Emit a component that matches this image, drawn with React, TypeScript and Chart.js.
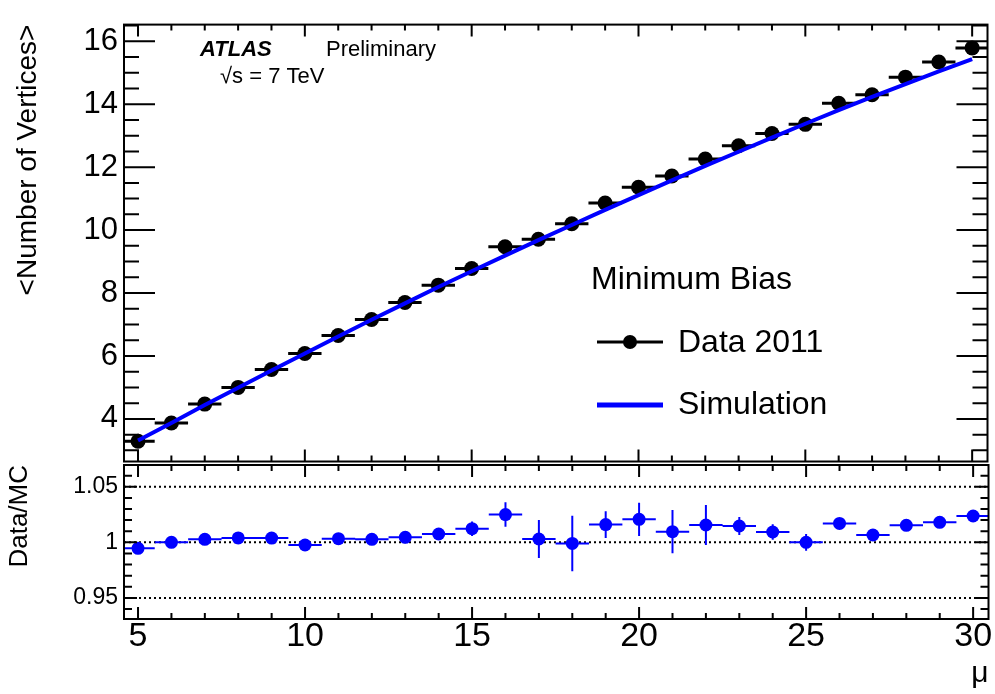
import React, { useEffect, useRef } from "react";
import { Chart, registerables } from "chart.js";

Chart.register(...registerables);

// Pile-up bins (bin centres in mu); each bin is one unit wide
const mu = [5, 6, 7, 8, 9, 10, 11, 12, 13, 14, 15, 16, 17, 18, 19, 20, 21, 22, 23, 24, 25, 26, 27, 28, 29, 30];
const muHalfWidth = 0.5;

// Mean number of reconstructed vertices, 2011 data
const dataVertices = [
  3.29, 3.87, 4.47, 5.0, 5.57, 6.08, 6.65, 7.16, 7.7, 8.25, 8.78, 9.47, 9.71,
  10.2, 10.86, 11.36, 11.72, 12.26, 12.68, 13.07, 13.36, 14.03, 14.3, 14.86, 15.34, 15.79,
];

// Simulation prediction
const simVertices = [
  3.31, 3.87, 4.44, 4.99, 5.54, 6.08, 6.62, 7.15, 7.67, 8.19, 8.69, 9.19, 9.68,
  10.16, 10.64, 11.11, 11.58, 12.04, 12.49, 12.94, 13.38, 13.81, 14.23, 14.64, 15.04, 15.43,
];

// Data / MC ratio with its uncertainty
const ratio = [
  0.9946, 1.0, 1.0027, 1.004, 1.0038, 0.9976, 1.0033, 1.0027, 1.0045, 1.0075, 1.0123, 1.025, 1.003,
  0.999, 1.016, 1.0207, 1.0096, 1.0156, 1.0147, 1.0093, 1.0, 1.017, 1.0066, 1.0153, 1.018, 1.0237,
];
const ratioErr = [
  0.003, 0.002, 0.002, 0.002, 0.002, 0.002, 0.002, 0.002, 0.002, 0.003, 0.0065, 0.011, 0.017,
  0.025, 0.012, 0.015, 0.0195, 0.018, 0.008, 0.007, 0.0075, 0.004, 0.004, 0.004, 0.005, 0.004,
];

// Axis tick labels
const verticesTicks = [4, 6, 8, 10, 12, 14, 16];
const ratioTicks = [0.95, 1, 1.05];
const muTicks = [5, 10, 15, 20, 25, 30];
const ratioReferenceLines = [0.95, 1, 1.05];

const FONT = '"Liberation Sans", Arial, Helvetica, sans-serif';
const BLUE = "#0000ff";
const W = 995;
const H = 694;

type TickSpec = {
  xFrom: number; xTo: number; xMinor: number; xMajor: number; xMajorLen: number; xMinorLen: number;
  yFrom: number; yTo: number; yMinor: number; yMajor: number; yMajorLen: number; yMinorLen: number;
};

const isMultiple = (v: number, step: number) => Math.abs(v / step - Math.round(v / step)) < 1e-6;

// Frame around the plot area with inward ticks on all four sides
function frameTicksPlugin(spec: TickSpec) {
  return {
    id: "frameTicks",
    afterDatasetsDraw(chart: any) {
      const { ctx, chartArea: a, scales } = chart;
      const xs = scales.x;
      const ys = scales.y;
      ctx.save();
      ctx.strokeStyle = "#000";
      ctx.lineWidth = 2;
      ctx.beginPath();
      const nx = Math.round((spec.xTo - spec.xFrom) / spec.xMinor);
      for (let i = 0; i <= nx; i++) {
        const v = spec.xFrom + i * spec.xMinor;
        const len = isMultiple(v, spec.xMajor) ? spec.xMajorLen : spec.xMinorLen;
        const px = xs.getPixelForValue(v);
        ctx.moveTo(px, a.top);
        ctx.lineTo(px, a.top + len);
        ctx.moveTo(px, a.bottom);
        ctx.lineTo(px, a.bottom - len);
      }
      const ny = Math.round((spec.yTo - spec.yFrom) / spec.yMinor);
      for (let i = 0; i <= ny; i++) {
        const v = spec.yFrom + i * spec.yMinor;
        const len = isMultiple(v, spec.yMajor) ? spec.yMajorLen : spec.yMinorLen;
        const py = ys.getPixelForValue(v);
        ctx.moveTo(a.left, py);
        ctx.lineTo(a.left + len, py);
        ctx.moveTo(a.right, py);
        ctx.lineTo(a.right - len, py);
      }
      ctx.stroke();
      ctx.strokeRect(a.left, a.top, a.right - a.left, a.bottom - a.top);
      ctx.restore();
    },
  };
}

// Bin-width and statistical error bars under the markers
function errorBarsPlugin(values: number[], errors: number[] | null, color: string, width: number) {
  return {
    id: "errorBars",
    beforeDatasetsDraw(chart: any) {
      const { ctx, chartArea: a, scales } = chart;
      const xs = scales.x;
      const ys = scales.y;
      ctx.save();
      ctx.beginPath();
      ctx.rect(a.left, a.top, a.right - a.left, a.bottom - a.top);
      ctx.clip();
      ctx.strokeStyle = color;
      ctx.lineWidth = width;
      ctx.beginPath();
      mu.forEach((m, i) => {
        const py = ys.getPixelForValue(values[i]);
        ctx.moveTo(xs.getPixelForValue(m - muHalfWidth), py);
        ctx.lineTo(xs.getPixelForValue(m + muHalfWidth), py);
        if (errors) {
          const px = xs.getPixelForValue(m);
          ctx.moveTo(px, ys.getPixelForValue(values[i] - errors[i]));
          ctx.lineTo(px, ys.getPixelForValue(values[i] + errors[i]));
        }
      });
      ctx.stroke();
      ctx.restore();
    },
  };
}

// Dotted reference lines in the ratio panel
const referenceLinesPlugin = {
  id: "referenceLines",
  beforeDatasetsDraw(chart: any) {
    const { ctx, chartArea: a, scales } = chart;
    ctx.save();
    ctx.strokeStyle = "#000";
    ctx.lineWidth = 2;
    ctx.setLineDash([2, 3]);
    ctx.beginPath();
    ratioReferenceLines.forEach((v) => {
      const py = scales.y.getPixelForValue(v);
      ctx.moveTo(a.left, py);
      ctx.lineTo(a.right, py);
    });
    ctx.stroke();
    ctx.restore();
  },
};

// Experiment label and legend
const labelsPlugin = {
  id: "labels",
  afterDraw(chart: any) {
    const { ctx } = chart;
    ctx.save();
    ctx.fillStyle = "#000";
    ctx.textBaseline = "middle";
    ctx.textAlign = "left";
    ctx.font = `italic bold 22px ${FONT}`;
    ctx.fillText("ATLAS", 200, 50);
    ctx.font = `22px ${FONT}`;
    ctx.fillText("Preliminary", 326, 50);
    ctx.fillText("\u221As = 7 TeV", 220, 77);

    ctx.font = `32px ${FONT}`;
    ctx.fillText("Minimum Bias", 591, 280);
    ctx.fillText("Data 2011", 678, 343);
    ctx.fillText("Simulation", 678, 405);

    ctx.strokeStyle = "#000";
    ctx.lineWidth = 3;
    ctx.beginPath();
    ctx.moveTo(597, 342);
    ctx.lineTo(663, 342);
    ctx.stroke();
    ctx.beginPath();
    ctx.arc(630, 342, 7, 0, Math.PI * 2);
    ctx.fill();

    ctx.strokeStyle = BLUE;
    ctx.lineWidth = 5;
    ctx.beginPath();
    ctx.moveTo(597, 405);
    ctx.lineTo(663, 405);
    ctx.stroke();
    ctx.restore();
  },
};

export default function App() {
  const topRef = useRef<HTMLCanvasElement | null>(null);
  const bottomRef = useRef<HTMLCanvasElement | null>(null);

  useEffect(() => {
    if (!topRef.current || !bottomRef.current) return;

    const top = new Chart(topRef.current, {
      type: "scatter",
      data: {
        datasets: [
          {
            type: "line",
            label: "Simulation",
            data: mu.map((m, i) => ({ x: m, y: simVertices[i] })),
            borderColor: BLUE,
            borderWidth: 4,
            pointRadius: 0,
            fill: false,
            tension: 0,
            order: 0,
          },
          {
            label: "Data 2011",
            data: mu.map((m, i) => ({ x: m, y: dataVertices[i] })),
            backgroundColor: "#000",
            borderWidth: 0,
            pointRadius: 7.5,
            order: 1,
          },
        ],
      },
      options: {
        responsive: false,
        animation: false,
        devicePixelRatio: 1,
        events: [],
        layout: { padding: { left: 0, right: 4, top: 5, bottom: H - 461.5 } },
        plugins: { legend: { display: false }, tooltip: { enabled: false } },
        scales: {
          x: { type: "linear", min: 4.58, max: 30.46, display: false },
          y: {
            type: "linear",
            position: "left",
            min: 2.646,
            max: 16.53,
            afterFit: (s: any) => { s.width = 124; },
            afterBuildTicks: (s: any) => { s.ticks = verticesTicks.map((v) => ({ value: v })); },
            grid: { display: false, drawTicks: false },
            border: { display: false },
            ticks: { padding: 6, color: "#000", font: { family: FONT, size: 31 }, callback: (v: any) => String(v) },
            title: {
              display: true,
              text: "<Number of Vertices>",
              align: "end",
              color: "#000",
              padding: { top: 11, bottom: 0 },
              font: { family: FONT, size: 28 },
            },
          },
        },
      } as any,
      plugins: [
        errorBarsPlugin(dataVertices, null, "#000", 3),
        frameTicksPlugin({
          xFrom: 5, xTo: 30, xMinor: 1, xMajor: 5, xMajorLen: 12, xMinorLen: 6,
          yFrom: 3, yTo: 16.5, yMinor: 0.5, yMajor: 2, yMajorLen: 31, yMinorLen: 15,
        }),
        labelsPlugin,
      ],
    });

    const bottom = new Chart(bottomRef.current, {
      type: "scatter",
      data: {
        datasets: [
          {
            label: "Data/MC",
            data: mu.map((m, i) => ({ x: m, y: ratio[i] })),
            backgroundColor: BLUE,
            borderWidth: 0,
            pointRadius: 6.5,
          },
        ],
      },
      options: {
        responsive: false,
        animation: false,
        devicePixelRatio: 1,
        events: [],
        layout: { padding: { left: 0, right: 4, top: 465, bottom: 0 } },
        plugins: { legend: { display: false }, tooltip: { enabled: false } },
        scales: {
          x: {
            type: "linear",
            min: 4.58,
            max: 30.46,
            afterFit: (s: any) => { s.height = 75; },
            afterBuildTicks: (s: any) => { s.ticks = muTicks.map((v) => ({ value: v })); },
            grid: { display: false, drawTicks: false },
            border: { display: false },
            ticks: { padding: 1, color: "#000", maxRotation: 0, font: { family: FONT, size: 34, lineHeight: 1 }, callback: (v: any) => String(v) },
            title: {
              display: true,
              text: "\u03BC",
              align: "end",
              color: "#000",
              padding: { top: 0, bottom: 2 },
              font: { family: FONT, size: 30 },
            },
          },
          y: {
            type: "linear",
            position: "left",
            min: 0.931,
            max: 1.0696,
            afterFit: (s: any) => { s.width = 124; },
            afterBuildTicks: (s: any) => { s.ticks = ratioTicks.map((v) => ({ value: v })); },
            grid: { display: false, drawTicks: false },
            border: { display: false },
            ticks: { padding: 6, color: "#000", font: { family: FONT, size: 23 }, callback: (v: any) => String(v) },
            title: {
              display: true,
              text: "Data/MC",
              align: "end",
              color: "#000",
              padding: { top: 4, bottom: 0 },
              font: { family: FONT, size: 26 },
            },
          },
        },
      } as any,
      plugins: [
        referenceLinesPlugin,
        errorBarsPlugin(ratio, ratioErr, BLUE, 2),
        frameTicksPlugin({
          xFrom: 5, xTo: 30, xMinor: 1, xMajor: 5, xMajorLen: 12, xMinorLen: 6,
          yFrom: 0.94, yTo: 1.06, yMinor: 0.01, yMajor: 0.05, yMajorLen: 13, yMinorLen: 8,
        }),
      ],
    });

    return () => {
      top.destroy();
      bottom.destroy();
    };
  }, []);

  const canvasStyle: React.CSSProperties = {
    position: "absolute",
    left: 0,
    top: 0,
    width: `${W}px`,
    height: `${H}px`,
  };

  return (
    <div style={{ position: "absolute", left: 0, top: 0, width: W, height: H, background: "#fff" }}>
      <canvas ref={topRef} width={W} height={H} style={canvasStyle} />
      <canvas ref={bottomRef} width={W} height={H} style={canvasStyle} />
    </div>
  );
}
